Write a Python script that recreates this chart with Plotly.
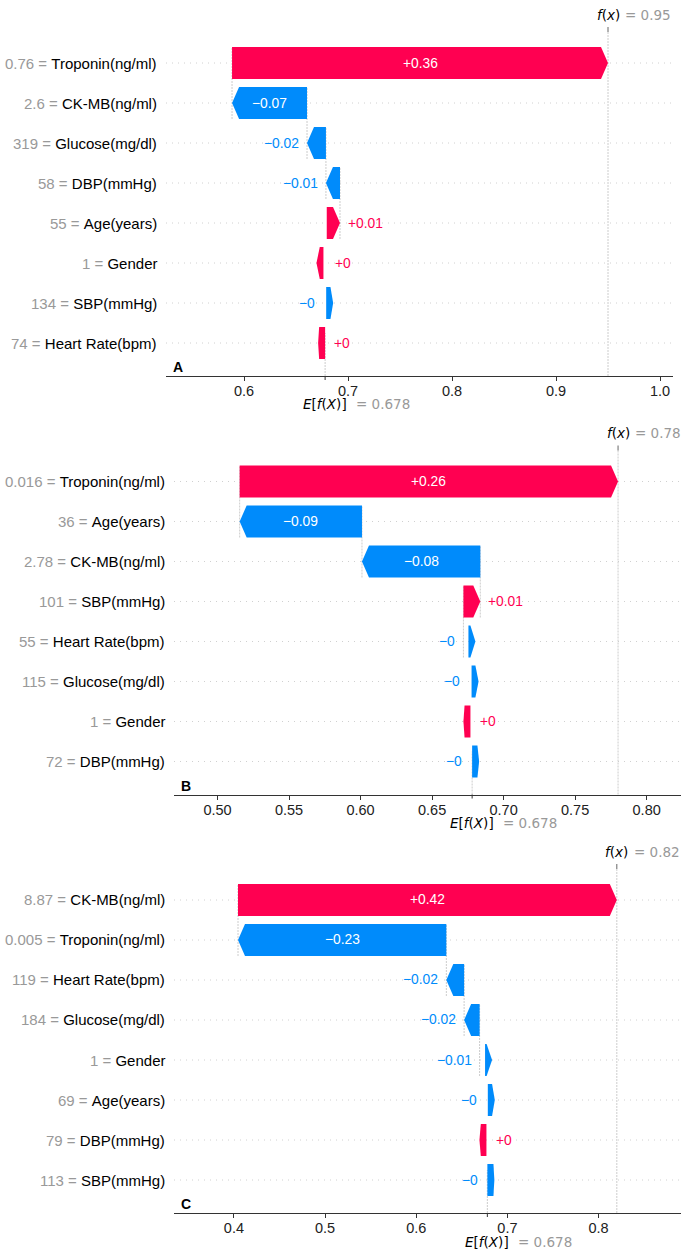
import plotly.graph_objects as go

W, H = 686, 1249

base_value = 0.678

# ---- Panel A (rows listed top to bottom) ----
a_features = ["Troponin(ng/ml)", "CK-MB(ng/ml)", "Glucose(mg/dl)", "DBP(mmHg)",
              "Age(years)", "Gender", "SBP(mmHg)", "Heart Rate(bpm)"]
a_feature_values = ["0.76", "2.6", "319", "58", "55", "1", "134", "74"]
a_shap = [0.3615, -0.0721, -0.0182, -0.0135, 0.0127, 0.0032, -0.0026, 0.0010]
a_tickvals = [0.6, 0.7, 0.8, 0.9, 1.0]
a_ticktext = ["0.6", "0.7", "0.8", "0.9", "1.0"]
a_xrange = [0.525, 1.0125]

# ---- Panel B ----
b_features = ["Troponin(ng/ml)", "Age(years)", "CK-MB(ng/ml)", "SBP(mmHg)",
              "Heart Rate(bpm)", "Glucose(mg/dl)", "Gender", "DBP(mmHg)"]
b_feature_values = ["0.016", "36", "2.78", "101", "55", "115", "1", "72"]
b_shap = [0.2645, -0.0855, -0.0827, 0.0118, -0.0035, -0.0022, 0.0008, -0.0012]
b_tickvals = [0.50, 0.55, 0.60, 0.65, 0.70, 0.75, 0.80]
b_ticktext = ["0.50", "0.55", "0.60", "0.65", "0.70", "0.75", "0.80"]
b_xrange = [0.4696, 0.824]

# ---- Panel C ----
c_features = ["CK-MB(ng/ml)", "Troponin(ng/ml)", "Heart Rate(bpm)", "Glucose(mg/dl)",
              "Gender", "Age(years)", "DBP(mmHg)", "SBP(mmHg)"]
c_feature_values = ["8.87", "0.005", "119", "184", "1", "69", "79", "113"]
c_shap = [0.4155, -0.2285, -0.0195, -0.0170, -0.0060, -0.0030, 0.0015, -0.0010]
c_tickvals = [0.4, 0.5, 0.6, 0.7, 0.8]
c_ticktext = ["0.4", "0.5", "0.6", "0.7", "0.8"]
c_xrange = [0.3343, 0.8904]

RED = "#ff0051"
BLUE = "#008bfb"
GRAY_TXT = "#999999"
SANS = "Liberation Sans, Arial, sans-serif"
MATH = "DejaVu Sans, sans-serif"
HEAD_PX = 7.0      # arrow head length in screen pixels
BAR_H = 0.8        # bar thickness in row units


def format_value(v, fmt):
    s = fmt % v
    s = s.rstrip("0").rstrip(".") if "." in s else s
    if s.startswith("-"):
        s = "\u2212" + s[1:]
    return s


panels = [
    dict(letter="A", features=a_features, fvals=a_feature_values, shap=a_shap,
         tickvals=a_tickvals, ticktext=a_ticktext, xrange=a_xrange,
         left=166, right=673, top=32, bottom=376),
    dict(letter="B", features=b_features, fvals=b_feature_values, shap=b_shap,
         tickvals=b_tickvals, ticktext=b_ticktext, xrange=b_xrange,
         left=174, right=681, top=450.5, bottom=794.5),
    dict(letter="C", features=c_features, fvals=c_feature_values, shap=c_shap,
         tickvals=c_tickvals, ticktext=c_ticktext, xrange=c_xrange,
         left=174, right=681, top=869, bottom=1213),
]


def py(p):
    return 1 - p / H


def pxx(p):
    return p / W


fig = go.Figure()
shapes = []
annotations = []
layout_axes = {}

for k, p in enumerate(panels):
    sfx = "" if k == 0 else str(k + 1)
    xa, ya = "x" + sfx, "y" + sfx
    n = len(p["shap"])
    vals = p["shap"]
    x0, x1 = p["xrange"]
    axis_px = p["right"] - p["left"]
    units_per_px = (x1 - x0) / axis_px
    hl = HEAD_PX * units_per_px
    y_lo, y_hi = -0.825, (n - 1) + 0.775

    layout_axes["xaxis" + sfx] = dict(
        domain=[pxx(p["left"]), pxx(p["right"])], range=[x0, x1], anchor=ya,
        showline=True, linecolor="#333333", linewidth=1, mirror=False,
        ticks="outside", ticklen=4, tickwidth=1, tickcolor="#333333",
        ticklabelstandoff=-2,
        tickvals=p["tickvals"], ticktext=p["ticktext"],
        tickfont=dict(family=SANS, size=14.5, color="#222222"),
        showgrid=False, zeroline=False, fixedrange=True,
    )
    layout_axes["yaxis" + sfx] = dict(
        domain=[py(p["bottom"]), py(p["top"])], range=[y_lo, y_hi], anchor=xa,
        visible=False, fixedrange=True,
    )

    fx = base_value + sum(vals)

    # start of each bar, walking down from f(x)
    starts = []
    loc = fx
    for v in vals:
        loc -= v
        starts.append(loc)

    # row guide lines
    for i in range(n):
        row = n - 1 - i
        shapes.append(dict(type="line", xref=xa + " domain", x0=0, x1=1, yref=ya,
                           y0=row, y1=row, layer="below",
                           line=dict(color="#d0d0d0", width=1, dash="1px,5px")))

    # f(x) and E[f(X)] reference lines
    shapes.append(dict(type="line", xref=xa, x0=fx, x1=fx, yref=ya + " domain",
                       y0=0, y1=1, layer="below",
                       line=dict(color="#cccccc", width=1, dash="2px,1px")))
    shapes.append(dict(type="line", xref=xa, x0=base_value, x1=base_value,
                       yref=ya + " domain", y0=0, y1=1.0 / n, layer="below",
                       line=dict(color="#cccccc", width=1, dash="2px,1px")))
    # connectors between the upper bars
    for i in range(n):
        if i + 4 < n:
            row = n - 1 - i
            shapes.append(dict(type="line", xref=xa, x0=starts[i], x1=starts[i],
                               yref=ya, y0=row - 1 - 0.4, y1=row + 0.4, layer="below",
                               line=dict(color="#cccccc", width=1, dash="2px,1px")))

    # ticks for E[f(X)] (bottom) and f(x) (top)
    shapes.append(dict(type="line", xref=xa, x0=base_value, x1=base_value, yref="paper",
                       y0=py(p["bottom"]), y1=py(p["bottom"] + 4),
                       line=dict(color="#333333", width=1)))
    shapes.append(dict(type="line", xref=xa, x0=fx, x1=fx, yref="paper",
                       y0=py(p["top"] - 5), y1=py(p["top"]),
                       line=dict(color="#666666", width=1)))

    # arrows
    for i, v in enumerate(vals):
        row = n - 1 - i
        s = starts[i]
        d = 1 if v >= 0 else -1
        dist = abs(v)
        head = min(dist, hl)
        dx = d * (dist - hl)
        if dx == 0:
            dx = d * 1e-6
        direction = 1 if dx > 0 else -1
        tip = s + dx + direction * head
        xs = [s, s + dx, tip, s + dx, s, s]
        ys = [row - BAR_H / 2, row - BAR_H / 2, row, row + BAR_H / 2, row + BAR_H / 2, row - BAR_H / 2]
        color = RED if v >= 0 else BLUE
        fig.add_trace(go.Scatter(x=xs, y=ys, xaxis=xa, yaxis=ya, mode="lines",
                                 fill="toself", fillcolor=color,
                                 line=dict(width=0, color=color),
                                 hoverinfo="skip", showlegend=False))

        label = format_value(v, "%+0.02f")
        text_w = 0.56 * 13.8 * len(label)
        bar_px = dist / units_per_px
        if bar_px > text_w + 6:
            annotations.append(dict(xref=xa, yref=ya, x=s + v / 2, y=row, text=label,
                                    showarrow=False, xanchor="center", yanchor="middle",
                                    font=dict(family=SANS, size=13.8, color="#ffffff")))
        elif v >= 0:
            annotations.append(dict(xref=xa, yref=ya, x=s + v, y=row, text=label,
                                    showarrow=False, xanchor="left", yanchor="middle", xshift=6,
                                    font=dict(family=SANS, size=13.8, color=RED)))
        else:
            annotations.append(dict(xref=xa, yref=ya, x=s + v, y=row, text=label,
                                    showarrow=False, xanchor="right", yanchor="middle", xshift=-6,
                                    font=dict(family=SANS, size=13.8, color=BLUE)))

        # feature label on the left
        annotations.append(dict(
            xref="paper", yref=ya, x=pxx(p["left"] - 7), y=row,
            text='<span style="color:%s">%s\u00a0=</span>\u00a0%s' % (GRAY_TXT, p["fvals"][i], p["features"][i]),
            showarrow=False, xanchor="right", yanchor="middle",
            font=dict(family=SANS, size=15, color="#000000")))

    # f(x) label on top
    annotations.append(dict(xref=xa, yref="paper", x=fx, y=py(p["top"] - 17.3),
                            text="<i>f</i>(<i>x</i>)", showarrow=False,
                            xanchor="center", yanchor="middle",
                            font=dict(family=MATH, size=13.5, color="#000000")))
    annotations.append(dict(xref=xa, yref="paper", x=fx, y=py(p["top"] - 17.3),
                            text="= " + format_value(fx, "%0.03f"), showarrow=False,
                            xanchor="left", yanchor="middle", xshift=15,
                            font=dict(family=MATH, size=13.5, color=GRAY_TXT)))
    # E[f(X)] label below
    annotations.append(dict(xref=xa, yref="paper", x=base_value, y=py(p["bottom"] + 28.5),
                            text="<i>E</i>[<i>f</i>(<i>X</i>)]", showarrow=False,
                            xanchor="center", yanchor="middle",
                            font=dict(family=MATH, size=13.5, color="#000000")))
    annotations.append(dict(xref=xa, yref="paper", x=base_value, y=py(p["bottom"] + 28.5),
                            text="= " + format_value(base_value, "%0.03f"), showarrow=False,
                            xanchor="left", yanchor="middle", xshift=29,
                            font=dict(family=MATH, size=13.5, color=GRAY_TXT)))
    # panel letter
    annotations.append(dict(xref="paper", yref="paper", x=pxx(p["left"] + 5),
                            y=py(p["bottom"] - 9), text="<b>%s</b>" % p["letter"],
                            showarrow=False, xanchor="left", yanchor="middle",
                            font=dict(family=SANS, size=14, color="#000000")))

fig.update_layout(
    width=W, height=H, margin=dict(l=0, r=0, t=0, b=0),
    paper_bgcolor="#ffffff", plot_bgcolor="#ffffff",
    shapes=shapes, annotations=annotations, showlegend=False,
    **layout_axes,
)

fig.write_html("out.html")
